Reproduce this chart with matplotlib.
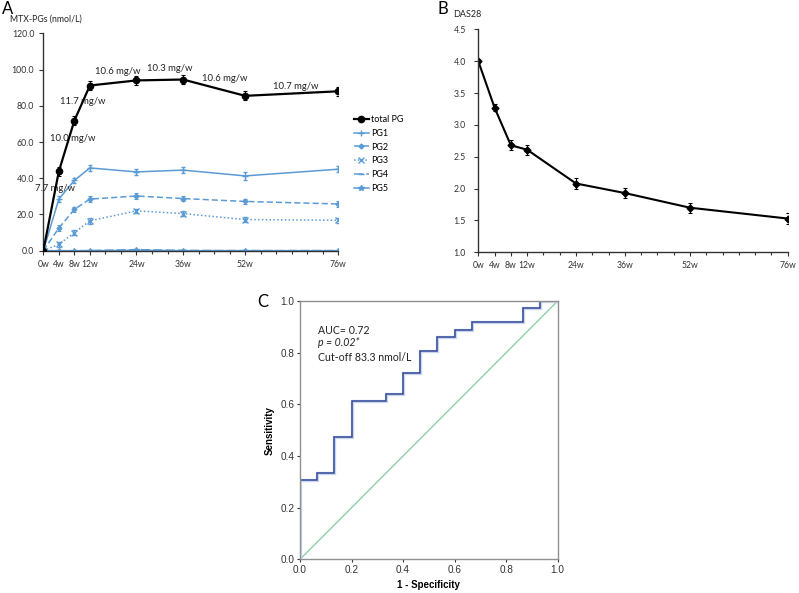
import matplotlib
matplotlib.use("Agg")
import matplotlib.pyplot as plt
from matplotlib.lines import Line2D
import numpy as np

# ---------------- data ----------------
weeks = [0, 4, 8, 12, 24, 36, 52, 76]
week_labels = ["0w", "4w", "8w", "12w", "24w", "36w", "52w", "76w"]

total_pg = [0.0, 43.8, 71.8, 91.2, 94.0, 94.5, 85.5, 88.0]
total_err = [0.0, 2.5, 2.3, 2.6, 2.5, 2.6, 2.5, 2.5]
pg1 = [0.0, 28.5, 38.8, 45.7, 43.5, 44.5, 41.3, 45.0]
pg1_err = [0.0, 1.8, 1.6, 1.8, 1.8, 1.8, 2.0, 1.8]
pg2 = [0.0, 12.5, 22.8, 28.5, 30.2, 28.8, 27.2, 25.8]
pg2_err = [0.0, 1.5, 1.5, 1.8, 1.8, 1.6, 1.6, 1.6]
pg3 = [0.0, 3.5, 10.0, 16.5, 22.0, 20.5, 17.2, 16.8]
pg3_err = [0.0, 1.5, 1.5, 1.5, 1.3, 1.3, 1.3, 1.3]
pg4 = [0.0, 0.0, 0.0, 0.1, 0.6, 0.2, 0.1, 0.1]
pg5 = [0.0, 0.0, 0.0, 0.0, 0.2, 0.0, 0.0, 0.0]

dose_labels = ["7.7 mg/w", "10.0 mg/w", "11.7 mg/w", "10.6 mg/w",
               "10.3 mg/w", "10.6 mg/w", "10.7 mg/w"]
dose_x = [2.9, 7.5, 10.2, 19.1, 32.5, 46.7, 65.1]
dose_y = [34.1, 62.2, 82.1, 99.2, 100.8, 94.8, 90.9]

das28 = [4.00, 3.27, 2.68, 2.61, 2.08, 1.93, 1.70, 1.53]
das28_err = [0.03, 0.05, 0.08, 0.08, 0.09, 0.08, 0.08, 0.08]

roc_fpr = [0.0, 0.0, 0.067, 0.067, 0.133, 0.133, 0.2, 0.2, 0.333, 0.333,
           0.4, 0.4, 0.467, 0.467, 0.533, 0.533, 0.6, 0.6, 0.667, 0.667,
           0.867, 0.867, 0.933, 0.933, 1.0]
roc_tpr = [0.0, 0.306, 0.306, 0.333, 0.333, 0.472, 0.472, 0.611, 0.611, 0.639,
           0.639, 0.722, 0.722, 0.806, 0.806, 0.861, 0.861, 0.889, 0.889, 0.917,
           0.917, 0.972, 0.972, 1.0, 1.0]

# ---------------- style ----------------
FONT = "Lato"
blue = "#5b9bd5"
plt.rcParams["font.family"] = [FONT, "DejaVu Sans"]

fig = plt.figure(figsize=(7.99, 5.93), dpi=100)

# ---------------- panel A ----------------
axA = fig.add_axes([0.0542, 0.5772, 0.3692, 0.3666])
ekw = dict(capsize=1.5, elinewidth=0.8, capthick=0.8)
st_total = dict(color="black", lw=1.6, ls="-", marker="o", ms=4.5)
st_pg1 = dict(color=blue, lw=1.1, ls="-", marker="+", ms=5, mew=1.0)
st_pg2 = dict(color=blue, lw=1.1, ls=(0, (4, 2)), marker="D", ms=2.5)
st_pg3 = dict(color=blue, lw=1.1, ls=(0, (1, 1.5)), marker="x", ms=4, mew=1.0)
st_pg4 = dict(color=blue, lw=1.1, ls=(0, (6, 2)), marker="_", ms=4, mew=1.0)
st_pg5 = dict(color=blue, lw=1.1, ls="-", marker="*", ms=4)

axA.errorbar(weeks, pg1, yerr=pg1_err, **st_pg1, **ekw)
axA.errorbar(weeks, pg2, yerr=pg2_err, **st_pg2, **ekw)
axA.errorbar(weeks, pg3, yerr=pg3_err, **st_pg3, **ekw)
axA.plot(weeks, pg4, **st_pg4)
axA.plot(weeks, pg5, **st_pg5)
axA.errorbar(weeks, total_pg, yerr=total_err, zorder=5, **st_total, **ekw)

for t, x, y in zip(dose_labels, dose_x, dose_y):
    axA.text(x, y, t, ha="center", va="center", fontsize=6.8, color="#222222")

axA.set_xlim(0, 76)
axA.set_ylim(0, 120)
axA.set_yticks(np.arange(0, 121, 20))
axA.set_yticklabels([f"{v:.1f}" for v in np.arange(0, 121, 20)])
axA.set_xticks(weeks)
axA.set_xticklabels(week_labels)
axA.set_xticks(np.arange(0, 77, 4), minor=True)
for s in ("top", "right"):
    axA.spines[s].set_visible(False)
for s in ("left", "bottom"):
    axA.spines[s].set_color("#333333")
    axA.spines[s].set_linewidth(1.0)
axA.tick_params(axis="y", labelsize=6.3, colors="#333333", length=3, width=0.8)
axA.tick_params(axis="x", labelsize=6.2, colors="#333333", length=3, width=0.8)
axA.tick_params(axis="x", which="minor", length=2, width=0.8, colors="#333333")

leg_names = ["total PG", "PG1", "PG2", "PG3", "PG4", "PG5"]
leg_handles = [Line2D([], [], **s) for s in
               (st_total, st_pg1, st_pg2, st_pg3, st_pg4, st_pg5)]
axA.legend(leg_handles, leg_names,
           loc="upper left", bbox_to_anchor=(1.04, 0.64), frameon=False,
           fontsize=6.5, handlelength=1.7, handletextpad=0.2,
           labelspacing=0.52, borderaxespad=0)

fig.text(0.0125, 0.968, "MTX-PGs (nmol/L)", fontsize=6.3, va="center",
         ha="left", color="#222222")
fig.text(0.002, 0.985, "A", fontsize=12, va="center", ha="left")

# ---------------- panel B ----------------
axB = fig.add_axes([0.5986, 0.5745, 0.3873, 0.3761])
axB.errorbar(weeks, das28, yerr=das28_err, color="black", lw=1.5,
             marker="D", ms=3.5, capsize=1.5, elinewidth=0.8, capthick=0.8)
axB.set_xlim(0, 76)
axB.set_ylim(1.0, 4.5)
axB.set_yticks(np.arange(1.0, 4.51, 0.5))
axB.set_yticklabels([f"{v:.1f}" for v in np.arange(1.0, 4.51, 0.5)])
axB.set_xticks(weeks)
axB.set_xticklabels(week_labels)
axB.set_xticks(np.arange(0, 77, 4), minor=True)
for s in ("top", "right"):
    axB.spines[s].set_visible(False)
for s in ("left", "bottom"):
    axB.spines[s].set_color("#333333")
    axB.spines[s].set_linewidth(1.0)
axB.tick_params(axis="y", labelsize=6.3, colors="#333333", length=3, width=0.8, pad=6)
axB.tick_params(axis="x", labelsize=6.2, colors="#333333", length=3, width=0.8)
axB.tick_params(axis="x", which="minor", length=2, width=0.8, colors="#333333")
fig.text(0.567, 0.976, "DAS28", fontsize=6.5, va="center", ha="left", color="#222222")
fig.text(0.547, 0.985, "B", fontsize=12, va="center", ha="left")

# ---------------- panel C ----------------
axC = fig.add_axes([0.3755, 0.0568, 0.3225, 0.4356])
axC.plot([0, 1], [0, 1], color="#8fd0a4", lw=1.0)
axC.plot(roc_fpr, roc_tpr, color="#c9d6ee", lw=2.4, solid_joinstyle="miter")
axC.plot(roc_fpr, roc_tpr, color="#34489a", lw=1.1, solid_joinstyle="miter")
axC.set_xlim(0, 1)
axC.set_ylim(0, 1)
ticks = np.arange(0, 1.01, 0.2)
axC.set_xticks(ticks)
axC.set_yticks(ticks)
axC.set_xticklabels([f"{v:.1f}" for v in ticks], family="Liberation Sans")
axC.set_yticklabels([f"{v:.1f}" for v in ticks], family="Liberation Sans")
for s in axC.spines.values():
    s.set_color("#909090")
    s.set_linewidth(1.0)
axC.tick_params(axis="both", labelsize=7.2, colors="#333333", length=2.5,
                width=0.8, pad=1.5)
axC.set_xlabel("1 - Specificity", fontsize=7, fontweight="bold",
               family="Liberation Sans", labelpad=4)
axC.set_ylabel("Sensitivity", fontsize=7, fontweight="bold",
               family="Liberation Sans", labelpad=4)
axC.text(0.07, 0.885, "AUC= 0.72", fontsize=7.6, transform=axC.transAxes,
         va="center", ha="left", color="#222222")
axC.text(0.07, 0.84, "p = 0.02*", fontsize=7.6, style="italic",
         transform=axC.transAxes, va="center", ha="left", color="#222222")
axC.text(0.07, 0.78, "Cut-off 83.3 nmol/L", fontsize=7.6,
         transform=axC.transAxes, va="center", ha="left", color="#222222")
fig.text(0.322, 0.49, "C", fontsize=12, va="center", ha="left")

fig.savefig("out.png", dpi=100)
